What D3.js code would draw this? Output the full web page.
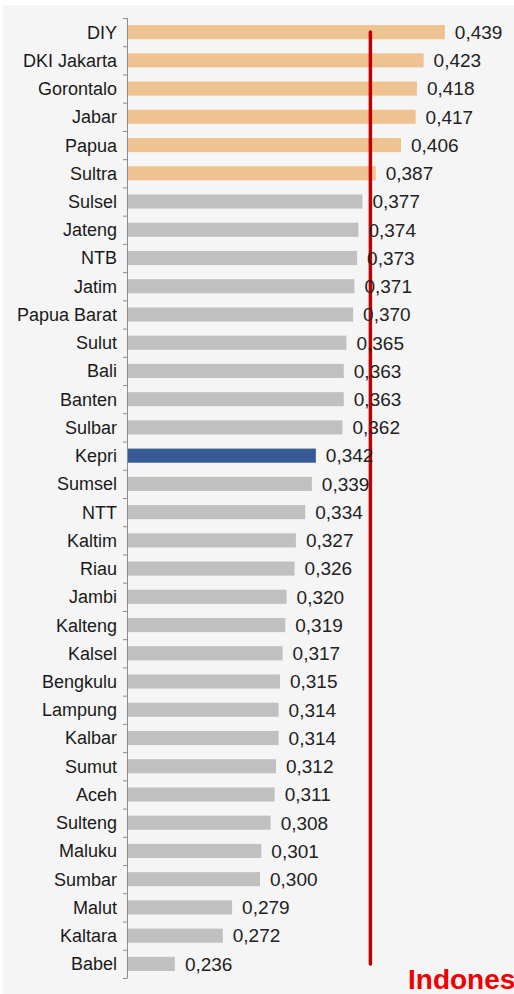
<!DOCTYPE html>
<html>
<head>
<meta charset="utf-8">
<script src="https://cdn.jsdelivr.net/npm/d3@7"></script>
<style>
  html, body { margin: 0; padding: 0; background: #fff; }
  svg { display: block; }
</style>
</head>
<body>
<div id="chart"></div>
<script>
// Gini ratio per province, sorted high to low
const provinces = ["DIY", "DKI Jakarta", "Gorontalo", "Jabar", "Papua", "Sultra", "Sulsel", "Jateng", "NTB", "Jatim",
  "Papua Barat", "Sulut", "Bali", "Banten", "Sulbar", "Kepri", "Sumsel", "NTT", "Kaltim", "Riau",
  "Jambi", "Kalteng", "Kalsel", "Bengkulu", "Lampung", "Kalbar", "Sumut", "Aceh", "Sulteng", "Maluku",
  "Sumbar", "Malut", "Kaltara", "Babel"];
const gini = [0.439, 0.423, 0.418, 0.417, 0.406, 0.387, 0.377, 0.374, 0.373, 0.371,
  0.370, 0.365, 0.363, 0.363, 0.362, 0.342, 0.339, 0.334, 0.327, 0.326,
  0.320, 0.319, 0.317, 0.315, 0.314, 0.314, 0.312, 0.311, 0.308, 0.301,
  0.300, 0.279, 0.272, 0.236];
// group: "high" = above national, "focus" = highlighted province, rest gray
const groups = ["high", "high", "high", "high", "high", "high"];
const focusProvince = "Kepri";
const indonesia = 0.383;
const indonesiaLabel = "Indonesia";

const width = 514, height = 994;
const data = provinces.map((p, i) => ({ name: p, value: gini[i], group: p === focusProvince ? "focus" : (groups[i] || "other") }));

const svg = d3.select("#chart").append("svg")
  .attr("width", width)
  .attr("height", height);

// panel background
svg.append("rect")
  .attr("x", 3).attr("y", 5)
  .attr("width", width - 3).attr("height", height - 5)
  .attr("fill", "#f5f5f5");

const x = d3.scaleLinear().domain([0.2, 0.45]).range([127, 459.5]);
const y = d3.scaleBand().domain(provinces).range([18, 978]).paddingInner(0.5).paddingOuter(0.25);
const step = y.step();
const color = { high: "#efc291", focus: "#375a94", other: "#c0c0c0" };

// bars
svg.append("g").selectAll("rect")
  .data(data)
  .join("rect")
  .attr("x", x(0.2))
  .attr("y", (d) => y(d.name))
  .attr("width", (d) => x(d.value) - x(0.2))
  .attr("height", y.bandwidth())
  .attr("fill", (d) => color[d.group]);

// category axis: line plus boundary ticks
const axis = svg.append("g").attr("stroke", "#8c8c8c").attr("stroke-width", 1);
const axisTop = 18, axisBottom = 978;
axis.append("line")
  .attr("x1", 127.5).attr("x2", 127.5)
  .attr("y1", axisTop).attr("y2", axisBottom);
axis.selectAll("line.tick")
  .data(d3.range(provinces.length + 1))
  .join("line")
  .attr("class", "tick")
  .attr("x1", 123).attr("x2", 127.5)
  .attr("y1", (i) => axisTop + i * step + 0.5)
  .attr("y2", (i) => axisTop + i * step + 0.5);

// category labels
svg.append("g").selectAll("text")
  .data(data)
  .join("text")
  .attr("x", 117)
  .attr("y", (d) => y(d.name) + y.bandwidth() / 2)
  .attr("dy", "0.36em")
  .attr("text-anchor", "end")
  .attr("font-family", "Liberation Sans, Arial, sans-serif")
  .attr("font-size", 18)
  .attr("fill", "#1a1a1a")
  .text((d) => d.name);

// national line
svg.append("line")
  .attr("x1", x(indonesia)).attr("x2", x(indonesia))
  .attr("y1", y(provinces[0]) + y.bandwidth() / 2)
  .attr("y2", y(provinces[provinces.length - 1]) + y.bandwidth() / 2)
  .attr("stroke", "#c00000")
  .attr("stroke-width", 3.5)
  .attr("stroke-linecap", "round");

// value labels
svg.append("g").selectAll("text")
  .data(data)
  .join("text")
  .attr("x", (d) => x(d.value) + 10)
  .attr("y", (d) => y(d.name) + y.bandwidth() / 2)
  .attr("dy", "0.36em")
  .attr("font-family", "Liberation Sans, Arial, sans-serif")
  .attr("font-size", 19)
  .attr("fill", "#222")
  .text((d) => d3.format(".3f")(d.value).replace(".", ","));

// label of the national line, cut by the right edge as in the source
svg.append("text")
  .attr("x", 408)
  .attr("y", 989)
  .attr("font-family", "Liberation Sans, Arial, sans-serif")
  .attr("font-weight", "bold")
  .attr("font-size", 28)
  .attr("fill", "#f00000")
  .text(indonesiaLabel);
</script>
</body>
</html>
